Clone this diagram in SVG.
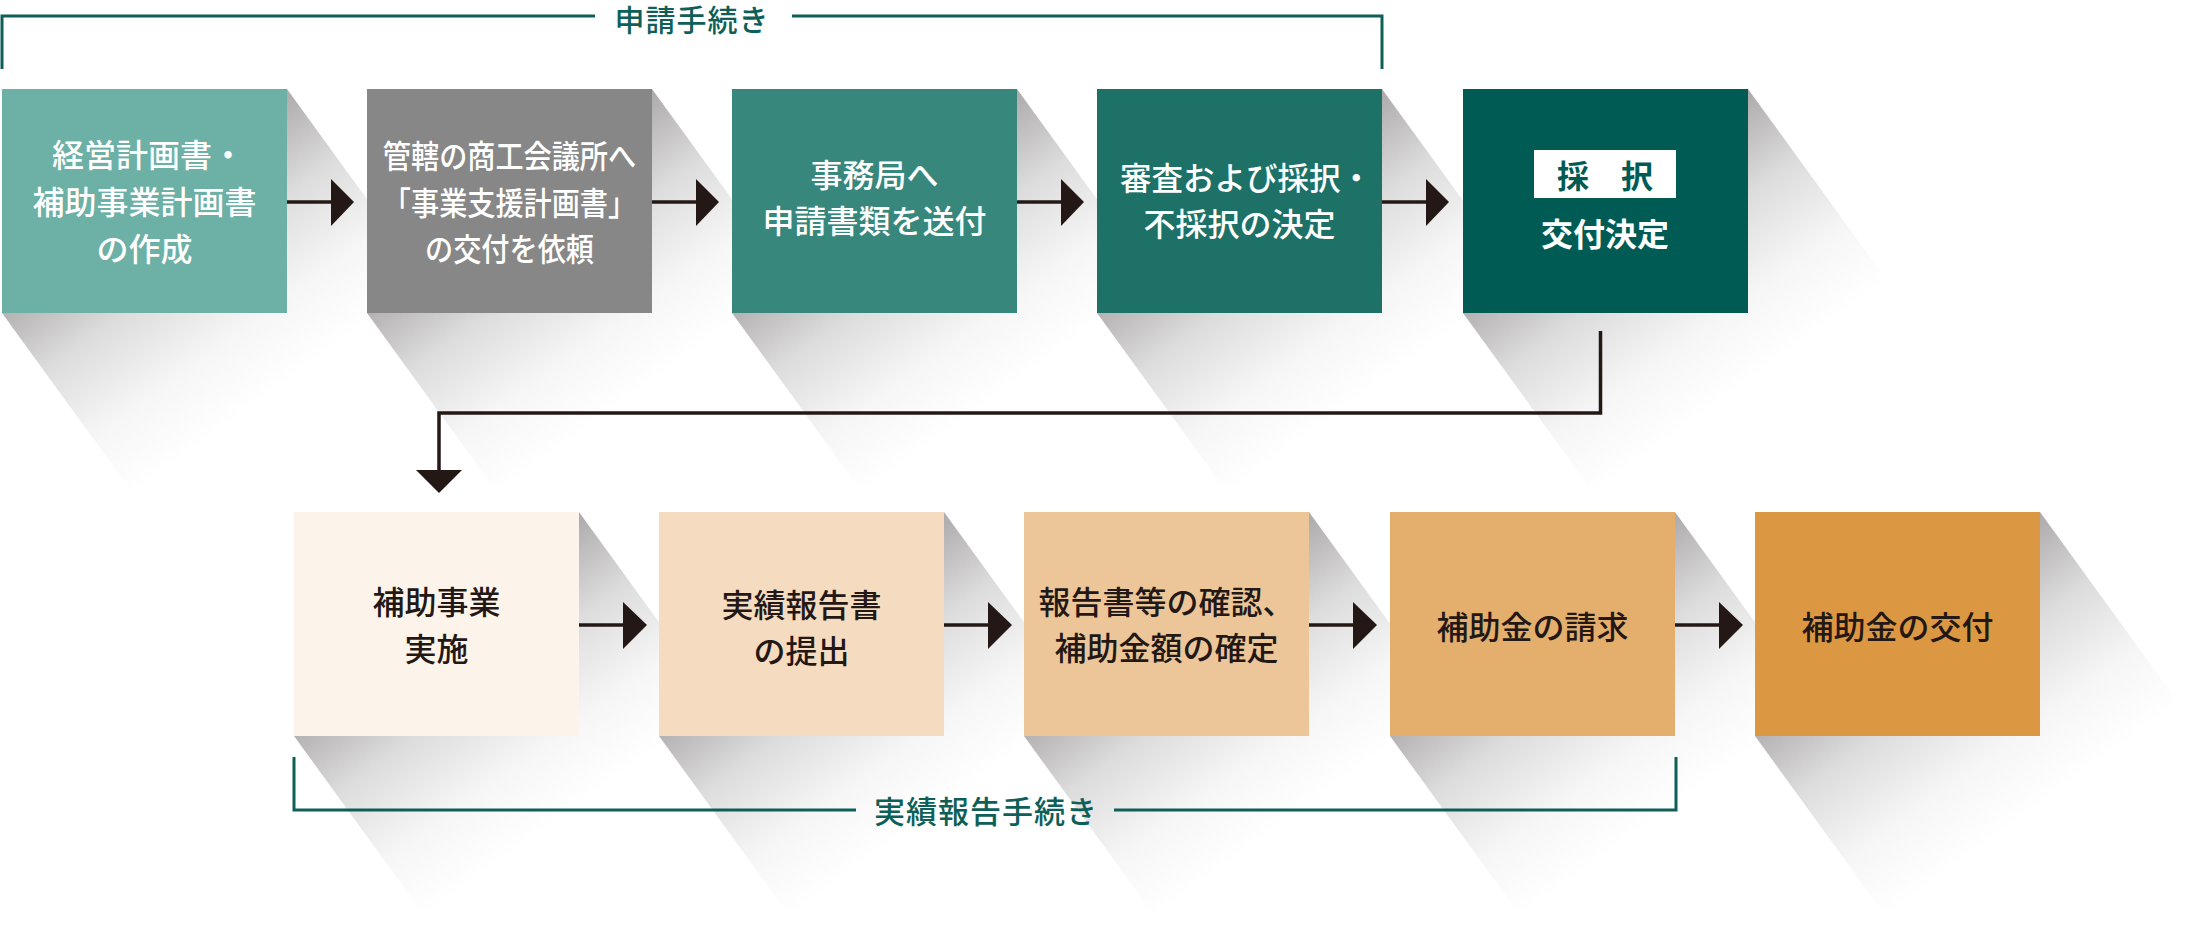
<svg xmlns="http://www.w3.org/2000/svg" width="2193" height="947" viewBox="0 0 2193 947">
<style>
.t{font-family:"Noto Sans CJK JP","Noto Sans",sans-serif;font-size:32px;font-weight:500;text-anchor:middle;dominant-baseline:central}
.w{fill:#ffffff}
.d{fill:#231815}
.lbl{font-family:"Noto Sans CJK JP","Noto Sans",sans-serif;font-size:30px;font-weight:500;fill:#0e5f57;text-anchor:middle;dominant-baseline:central;letter-spacing:1px}
.br{fill:none;stroke:#0e5f57;stroke-width:3}
.ln{fill:none;stroke:#231815;stroke-width:3.5}
.ah{fill:#231815}
.sh{fill:url(#shg)}
</style>
<defs>
<linearGradient id="shg" gradientUnits="userSpaceOnUse" x1="100" y1="138" x2="238" y2="328">
<stop offset="0" stop-color="#4d4848" stop-opacity="0.46"/>
<stop offset="0.35" stop-color="#4d4848" stop-opacity="0.19"/>
<stop offset="0.7" stop-color="#4d4848" stop-opacity="0.05"/>
<stop offset="1" stop-color="#4d4848" stop-opacity="0"/>
</linearGradient>
</defs>
<rect width="2193" height="947" fill="#ffffff"/>
<g id="shadows">
<polygon class="sh" transform="translate(2,89)" points="285,0 465,248 180,472 0,224"/>
<polygon class="sh" transform="translate(367,89)" points="285,0 465,248 180,472 0,224"/>
<polygon class="sh" transform="translate(732,89)" points="285,0 465,248 180,472 0,224"/>
<polygon class="sh" transform="translate(1097,89)" points="285,0 465,248 180,472 0,224"/>
<polygon class="sh" transform="translate(1463,89)" points="285,0 465,248 180,472 0,224"/>
<polygon class="sh" transform="translate(294,512)" points="285,0 465,248 180,472 0,224"/>
<polygon class="sh" transform="translate(659,512)" points="285,0 465,248 180,472 0,224"/>
<polygon class="sh" transform="translate(1024,512)" points="285,0 465,248 180,472 0,224"/>
<polygon class="sh" transform="translate(1390,512)" points="285,0 465,248 180,472 0,224"/>
<polygon class="sh" transform="translate(1755,512)" points="285,0 465,248 180,472 0,224"/>
</g>
<g id="node1">
<rect x="2" y="89" width="285" height="224" fill="#6db0a5"/>
<text class="t w" x="148" y="153">経営計画書・</text>
<text class="t w" x="144.5" y="200">補助事業計画書</text>
<text class="t w" x="144.5" y="247">の作成</text>
</g>
<g id="node2">
<rect x="367" y="89" width="285" height="224" fill="#878787"/>
<g transform="translate(509.5,0) scale(0.88,1)">
<text class="t w" x="0" y="154">管轄の商工会議所へ</text>
<text class="t w" x="0" y="201">「事業支援計画書」</text>
<text class="t w" x="0" y="247">の交付を依頼</text>
</g>
</g>
<g id="node3">
<rect x="732" y="89" width="285" height="224" fill="#38877c"/>
<text class="t w" x="874.5" y="173">事務局へ</text>
<text class="t w" x="874.5" y="219">申請書類を送付</text>
</g>
<g id="node4">
<rect x="1097" y="89" width="285" height="224" fill="#1d7167"/>
<text class="t w" x="1246" y="176" style="font-size:31.5px">審査および採択・</text>
<text class="t w" x="1239.5" y="222">不採択の決定</text>
</g>
<g id="node5">
<rect x="1463" y="89" width="285" height="224" fill="#005b55"/>
<rect x="1534" y="150" width="142" height="48" fill="#ffffff"/>
<text class="t" x="1605" y="174" fill="#005b55" style="font-weight:700">採　択</text>
<text class="t w" x="1605" y="232" style="font-weight:700">交付決定</text>
</g>
<g id="node6">
<rect x="294" y="512" width="285" height="224" fill="#fcf4ea"/>
<text class="t d" x="436.5" y="600">補助事業</text>
<text class="t d" x="436.5" y="647">実施</text>
</g>
<g id="node7">
<rect x="659" y="512" width="285" height="224" fill="#f5dcc0"/>
<text class="t d" x="801.5" y="603">実績報告書</text>
<text class="t d" x="801.5" y="649">の提出</text>
</g>
<g id="node8">
<rect x="1024" y="512" width="285" height="224" fill="#ecc699"/>
<text class="t d" x="1166.5" y="600">報告書等の確認、</text>
<text class="t d" x="1166.5" y="646">補助金額の確定</text>
</g>
<g id="node9">
<rect x="1390" y="512" width="285" height="224" fill="#e4ae6d"/>
<text class="t d" x="1532.5" y="625">補助金の請求</text>
</g>
<g id="node10">
<rect x="1755" y="512" width="285" height="224" fill="#dc9742"/>
<text class="t d" x="1897.5" y="625">補助金の交付</text>
</g>
<g id="connectors">
<path class="ln" d="M287,202 H332"/>
<polygon class="ah" points="331,179 354,202 331,226"/>
<path class="ln" d="M652,202 H697"/>
<polygon class="ah" points="696,179 719,202 696,226"/>
<path class="ln" d="M1017,202 H1062"/>
<polygon class="ah" points="1061,179 1084,202 1061,226"/>
<path class="ln" d="M1382,202 H1427"/>
<polygon class="ah" points="1426,179 1449,202 1426,226"/>
<path class="ln" d="M1600.5,331 V413 H439 V471"/>
<polygon class="ah" points="416,470 462,470 439,493"/>
<path class="ln" d="M579,625 H624"/>
<polygon class="ah" points="623,602 647,625 623,649"/>
<path class="ln" d="M944,625 H989"/>
<polygon class="ah" points="988,602 1012,625 988,649"/>
<path class="ln" d="M1309,625 H1354"/>
<polygon class="ah" points="1353,602 1377,625 1353,649"/>
<path class="ln" d="M1675,625 H1720"/>
<polygon class="ah" points="1719,602 1743,625 1719,649"/>
<path class="br" d="M2,69 V16 H595 M792,16 H1382 V69"/>
<text class="lbl" x="692" y="18">申請手続き</text>
<path class="br" d="M294,757 V810 H856 M1114,810 H1676 V757"/>
<text class="lbl" x="986" y="809" style="font-size:31px">実績報告手続き</text>
</g>
</svg>
